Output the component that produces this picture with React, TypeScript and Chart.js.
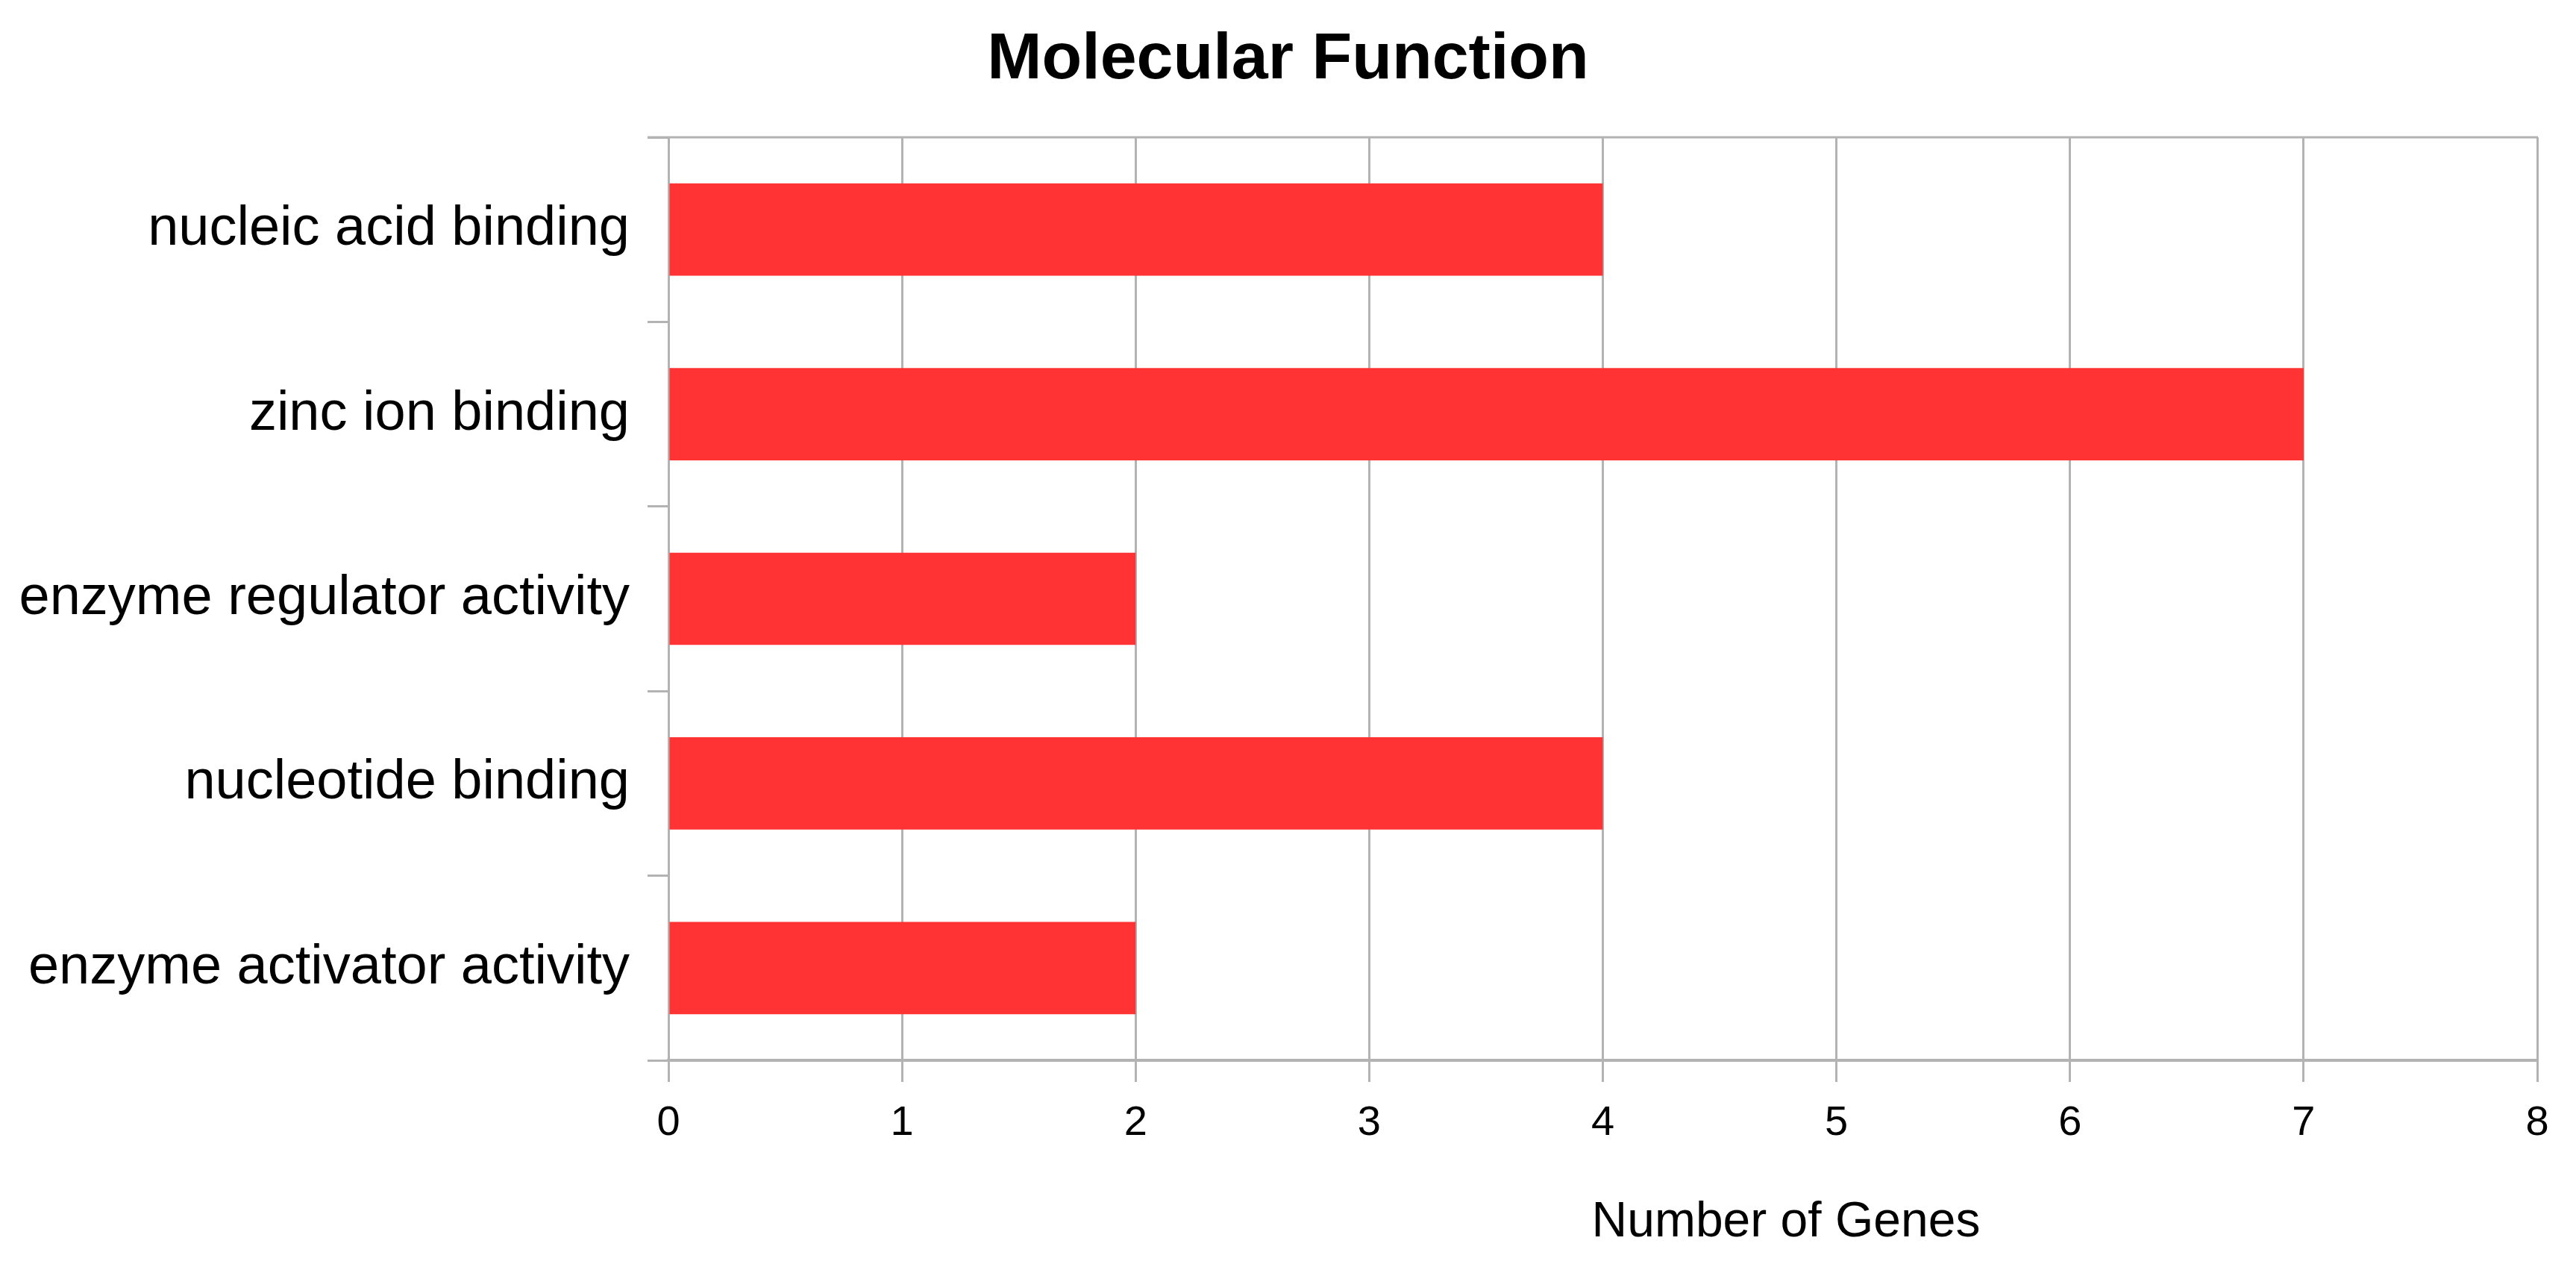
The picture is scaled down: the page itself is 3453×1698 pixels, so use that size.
import React, { useEffect, useRef } from "react";
import { Chart, registerables } from "chart.js";

Chart.register(...registerables);

const chartTitle = "Molecular Function";
const xAxisTitle = "Number of Genes";
const categories = [
  "nucleic acid binding",
  "zinc ion binding",
  "enzyme regulator activity",
  "nucleotide binding",
  "enzyme activator activity",
];
const geneCounts = [4, 7, 2, 4, 2];
const xMin = 0;
const xMax = 8;
const xStep = 1;

const FONT = "'Liberation Sans', Arial, sans-serif";
const GRID = "#b3b3b3";

const textPlugin = {
  id: "textPlugin",
  afterDraw(chart: any) {
    const { ctx, chartArea, width } = chart;
    ctx.save();
    // top frame line
    ctx.strokeStyle = GRID;
    ctx.lineWidth = 3;
    ctx.beginPath();
    ctx.moveTo(chartArea.left - 28, chartArea.top);
    ctx.lineTo(chartArea.right + 1, chartArea.top);
    ctx.stroke();
    ctx.fillStyle = "#000";
    ctx.textAlign = "center";
    ctx.textBaseline = "alphabetic";
    ctx.font = `bold 88px ${FONT}`;
    ctx.fillText(chartTitle, width / 2, 105);
    ctx.font = `66px ${FONT}`;
    ctx.fillText(
      xAxisTitle,
      chartArea.left + chartArea.width * 0.598,
      chartArea.bottom + 236
    );
    ctx.restore();
  },
};

export default function App() {
  const ref = useRef<HTMLCanvasElement | null>(null);

  useEffect(() => {
    document.body.style.margin = "0";
    const canvas = ref.current;
    if (!canvas) return;
    const chart = new Chart(canvas, {
      type: "bar",
      data: {
        labels: categories,
        datasets: [
          {
            data: geneCounts,
            backgroundColor: "#ff3333",
            borderWidth: 0,
            categoryPercentage: 1,
            barPercentage: 0.5,
          },
        ],
      },
      options: {
        indexAxis: "y",
        responsive: false,
        animation: false,
        devicePixelRatio: 1,
        layout: { padding: { top: 184, right: 52, left: 0, bottom: 0 } },
        plugins: {
          legend: { display: false },
          title: { display: false },
          tooltip: { enabled: false },
        },
        scales: {
          x: {
            type: "linear",
            min: xMin,
            max: xMax,
            ticks: {
              stepSize: xStep,
              color: "#000",
              font: { family: FONT, size: 56 },
              padding: 22,
            },
            grid: {
              color: GRID,
              lineWidth: 3,
              tickLength: 29,
              drawTicks: true,
            },
            border: { display: true, color: GRID, width: 4 },
            afterFit(scale: any) {
              scale.height = 277;
            },
          },
          y: {
            type: "category",
            offset: true,
            ticks: {
              color: "#000",
              font: { family: FONT, size: 74 },
              padding: 24,
            },
            grid: {
              offset: true,
              drawOnChartArea: false,
              drawTicks: true,
              tickLength: 28,
              color: GRID,
              lineWidth: 3,
            },
            border: { display: true, color: GRID, width: 3 },
            afterFit(scale: any) {
              scale.width = 896;
            },
          },
        },
      },
      plugins: [textPlugin],
    });
    return () => chart.destroy();
  }, []);

  return (
    <div style={{ width: 3453, height: 1698, overflow: "hidden" }}>
      <canvas
        ref={ref}
        width={3453}
        height={1698}
        style={{ display: "block", width: 3453, height: 1698 }}
      />
    </div>
  );
}
